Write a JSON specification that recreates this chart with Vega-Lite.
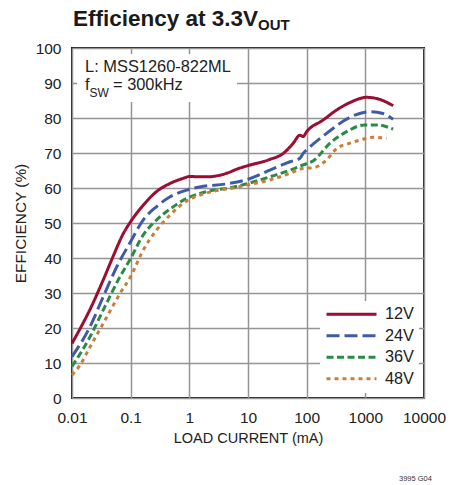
{
  "$schema": "https://vega.github.io/schema/vega-lite/v6.json",
  "width": 352,
  "height": 350,
  "autosize": {"type": "none"},
  "padding": {"left": 72, "top": 48, "right": 27, "bottom": 87},
  "background": "white",
  "config": {
    "font": "Liberation Sans",
    "view": {"stroke": "#1a1a1a", "strokeWidth": 2},
    "axis": {
      "grid": true,
      "gridColor": "#959595",
      "gridWidth": 1.5,
      "ticks": false,
      "domain": false,
      "labelFont": "Liberation Sans",
      "labelFontSize": 15.5,
      "labelColor": "#222",
      "titleFont": "Liberation Sans",
      "titleFontWeight": "normal",
      "titleColor": "#222",
      "labelOverlap": false
    },
    "legend": {
      "orient": "bottom-right",
      "offset": 5,
      "fillColor": "white",
      "padding": 5,
      "labelFont": "Liberation Sans",
      "labelFontSize": 16.3,
      "labelColor": "#222",
      "symbolType": "stroke",
      "symbolSize": 2500,
      "symbolStrokeWidth": 3,
      "clipHeight": 16.5,
      "rowPadding": 4.5,
      "labelOffset": 7,
      "title": null
    }
  },
  "layer": [
    {
      "data": {
        "values": [
          {"load": 0.01, "eff": 15.6, "vin": "12V"},
          {"load": 0.015, "eff": 21, "vin": "12V"},
          {"load": 0.02, "eff": 25.1, "vin": "12V"},
          {"load": 0.034, "eff": 33.7, "vin": "12V"},
          {"load": 0.05, "eff": 40.4, "vin": "12V"},
          {"load": 0.075, "eff": 47, "vin": "12V"},
          {"load": 0.1, "eff": 50.4, "vin": "12V"},
          {"load": 0.164, "eff": 55.1, "vin": "12V"},
          {"load": 0.277, "eff": 59, "vin": "12V"},
          {"load": 0.47, "eff": 61.3, "vin": "12V"},
          {"load": 0.8, "eff": 62.8, "vin": "12V"},
          {"load": 1, "eff": 63.3, "vin": "12V"},
          {"load": 1.5, "eff": 63.2, "vin": "12V"},
          {"load": 2, "eff": 63.2, "vin": "12V"},
          {"load": 3, "eff": 63.5, "vin": "12V"},
          {"load": 4.3, "eff": 64.2, "vin": "12V"},
          {"load": 7, "eff": 65.6, "vin": "12V"},
          {"load": 10, "eff": 66.4, "vin": "12V"},
          {"load": 23, "eff": 68.1, "vin": "12V"},
          {"load": 40, "eff": 69.9, "vin": "12V"},
          {"load": 59, "eff": 72.8, "vin": "12V"},
          {"load": 77, "eff": 75.1, "vin": "12V"},
          {"load": 87, "eff": 74.7, "vin": "12V"},
          {"load": 100, "eff": 76.1, "vin": "12V"},
          {"load": 190, "eff": 79.4, "vin": "12V"},
          {"load": 325, "eff": 82.3, "vin": "12V"},
          {"load": 545, "eff": 84.4, "vin": "12V"},
          {"load": 1050, "eff": 85.9, "vin": "12V"},
          {"load": 1770, "eff": 85.3, "vin": "12V"},
          {"load": 2980, "eff": 83.5, "vin": "12V"},

          {"load": 0.01, "eff": 11.8, "vin": "24V"},
          {"load": 0.0203, "eff": 20.4, "vin": "24V"},
          {"load": 0.034, "eff": 28.9, "vin": "24V"},
          {"load": 0.058, "eff": 37.5, "vin": "24V"},
          {"load": 0.1, "eff": 44.7, "vin": "24V"},
          {"load": 0.164, "eff": 50.9, "vin": "24V"},
          {"load": 0.277, "eff": 54.7, "vin": "24V"},
          {"load": 0.47, "eff": 57.5, "vin": "24V"},
          {"load": 0.9, "eff": 59.4, "vin": "24V"},
          {"load": 1.5, "eff": 60.3, "vin": "24V"},
          {"load": 4.4, "eff": 61.2, "vin": "24V"},
          {"load": 10, "eff": 62.5, "vin": "24V"},
          {"load": 23.6, "eff": 65.1, "vin": "24V"},
          {"load": 52, "eff": 67.5, "vin": "24V"},
          {"load": 77, "eff": 68.5, "vin": "24V"},
          {"load": 87, "eff": 69.9, "vin": "24V"},
          {"load": 100, "eff": 70.9, "vin": "24V"},
          {"load": 218, "eff": 75.6, "vin": "24V"},
          {"load": 545, "eff": 80.2, "vin": "24V"},
          {"load": 1200, "eff": 81.8, "vin": "24V"},
          {"load": 2000, "eff": 81.3, "vin": "24V"},
          {"load": 2980, "eff": 79.6, "vin": "24V"},

          {"load": 0.01, "eff": 9, "vin": "36V"},
          {"load": 0.0203, "eff": 17.5, "vin": "36V"},
          {"load": 0.034, "eff": 25.1, "vin": "36V"},
          {"load": 0.066, "eff": 34.7, "vin": "36V"},
          {"load": 0.1, "eff": 39.9, "vin": "36V"},
          {"load": 0.164, "eff": 46.6, "vin": "36V"},
          {"load": 0.277, "eff": 50.9, "vin": "36V"},
          {"load": 0.47, "eff": 54, "vin": "36V"},
          {"load": 0.9, "eff": 57, "vin": "36V"},
          {"load": 2, "eff": 59, "vin": "36V"},
          {"load": 5.5, "eff": 60.2, "vin": "36V"},
          {"load": 10, "eff": 61.3, "vin": "36V"},
          {"load": 23.6, "eff": 63.2, "vin": "36V"},
          {"load": 52, "eff": 65.1, "vin": "36V"},
          {"load": 87, "eff": 66.6, "vin": "36V"},
          {"load": 130, "eff": 67.8, "vin": "36V"},
          {"load": 250, "eff": 72.8, "vin": "36V"},
          {"load": 480, "eff": 76.1, "vin": "36V"},
          {"load": 960, "eff": 78, "vin": "36V"},
          {"load": 1600, "eff": 78, "vin": "36V"},
          {"load": 2980, "eff": 76.8, "vin": "36V"},

          {"load": 0.01, "eff": 6.6, "vin": "48V"},
          {"load": 0.0137, "eff": 9.4, "vin": "48V"},
          {"load": 0.02, "eff": 14.4, "vin": "48V"},
          {"load": 0.034, "eff": 21.3, "vin": "48V"},
          {"load": 0.066, "eff": 29.9, "vin": "48V"},
          {"load": 0.1, "eff": 34.7, "vin": "48V"},
          {"load": 0.164, "eff": 42.3, "vin": "48V"},
          {"load": 0.277, "eff": 48, "vin": "48V"},
          {"load": 0.47, "eff": 52.3, "vin": "48V"},
          {"load": 0.9, "eff": 56.3, "vin": "48V"},
          {"load": 2, "eff": 58.6, "vin": "48V"},
          {"load": 5.5, "eff": 60, "vin": "48V"},
          {"load": 10, "eff": 60.9, "vin": "48V"},
          {"load": 23.6, "eff": 62.3, "vin": "48V"},
          {"load": 52, "eff": 64.2, "vin": "48V"},
          {"load": 87, "eff": 65.6, "vin": "48V"},
          {"load": 130, "eff": 65.8, "vin": "48V"},
          {"load": 218, "eff": 68, "vin": "48V"},
          {"load": 325, "eff": 71.3, "vin": "48V"},
          {"load": 545, "eff": 72.8, "vin": "48V"},
          {"load": 810, "eff": 73.7, "vin": "48V"},
          {"load": 1350, "eff": 74.5, "vin": "48V"},
          {"load": 2300, "eff": 74.2, "vin": "48V"}
        ]
      },
      "mark": {"type": "line", "strokeWidth": 3, "interpolate": "monotone", "strokeCap": "butt"},
      "encoding": {
        "x": {
          "field": "load",
          "type": "quantitative",
          "scale": {"type": "log", "domain": [0.01, 10000], "nice": false},
          "axis": {"values": [0.01, 0.1, 1, 10, 100, 1000, 10000], "format": "~g", "title": "LOAD CURRENT (mA)", "titleFontSize": 14.5, "labelPadding": 12, "titlePadding": 6, "labelFlush": false}
        },
        "y": {
          "field": "eff",
          "type": "quantitative",
          "scale": {"domain": [0, 100], "nice": false},
          "axis": {"values": [0, 10, 20, 30, 40, 50, 60, 70, 80, 90, 100], "title": "EFFICIENCY (%)", "titleFontSize": 15.4, "labelPadding": 11, "titlePadding": 7}
        },
        "color": {
          "field": "vin",
          "type": "nominal",
          "scale": {"domain": ["12V", "24V", "36V", "48V"], "range": ["#9c0d32", "#3d5ba9", "#2b8a48", "#c97f3a"]}
        },
        "strokeDash": {
          "field": "vin",
          "type": "nominal",
          "scale": {"domain": ["12V", "24V", "36V", "48V"], "range": [[1, 0], [13, 5], [7, 3.5], [4, 4]]}
        }
      }
    },
    {
      "data": {"values": [{}]},
      "mark": {"type": "rect", "fill": "white"},
      "encoding": {
        "x": {"datum": 0.0122, "type": "quantitative", "scale": {"type": "log", "domain": [0.01, 10000], "nice": false}, "axis": {"values": [0.01, 0.1, 1, 10, 100, 1000, 10000], "format": "~g", "title": "LOAD CURRENT (mA)", "titleFontSize": 14.5, "labelPadding": 12, "titlePadding": 6, "labelFlush": false}},
        "x2": {"datum": 6.5},
        "y": {"datum": 98.3, "type": "quantitative", "scale": {"domain": [0, 100], "nice": false}, "axis": {"values": [0, 10, 20, 30, 40, 50, 60, 70, 80, 90, 100], "title": "EFFICIENCY (%)", "titleFontSize": 15.4, "labelPadding": 11, "titlePadding": 7}},
        "y2": {"datum": 84.6}
      }
    },
    {
      "data": {"values": [{}]},
      "mark": {"type": "text", "align": "left", "baseline": "alphabetic", "fontSize": 16.4, "color": "#222"},
      "encoding": {
        "x": {"datum": 0.0167, "type": "quantitative", "scale": {"type": "log", "domain": [0.01, 10000], "nice": false}, "axis": {"values": [0.01, 0.1, 1, 10, 100, 1000, 10000], "format": "~g", "title": "LOAD CURRENT (mA)", "titleFontSize": 14.5, "labelPadding": 12, "titlePadding": 6, "labelFlush": false}},
        "y": {"datum": 93.1, "type": "quantitative", "scale": {"domain": [0, 100], "nice": false}, "axis": {"values": [0, 10, 20, 30, 40, 50, 60, 70, 80, 90, 100], "title": "EFFICIENCY (%)", "titleFontSize": 15.4, "labelPadding": 11, "titlePadding": 7}},
        "text": {"value": "L: MSS1260-822ML"}
      }
    },
    {
      "data": {"values": [{}]},
      "mark": {"type": "text", "align": "left", "baseline": "alphabetic", "fontSize": 16.4, "color": "#222"},
      "encoding": {
        "x": {"datum": 0.0167, "type": "quantitative", "scale": {"type": "log", "domain": [0.01, 10000], "nice": false}, "axis": {"values": [0.01, 0.1, 1, 10, 100, 1000, 10000], "format": "~g", "title": "LOAD CURRENT (mA)", "titleFontSize": 14.5, "labelPadding": 12, "titlePadding": 6, "labelFlush": false}},
        "y": {"datum": 88, "type": "quantitative", "scale": {"domain": [0, 100], "nice": false}, "axis": {"values": [0, 10, 20, 30, 40, 50, 60, 70, 80, 90, 100], "title": "EFFICIENCY (%)", "titleFontSize": 15.4, "labelPadding": 11, "titlePadding": 7}},
        "text": {"value": "f"}
      }
    },
    {
      "data": {"values": [{}]},
      "mark": {"type": "text", "align": "left", "baseline": "alphabetic", "fontSize": 12, "color": "#222"},
      "encoding": {
        "x": {"datum": 0.0199, "type": "quantitative", "scale": {"type": "log", "domain": [0.01, 10000], "nice": false}, "axis": {"values": [0.01, 0.1, 1, 10, 100, 1000, 10000], "format": "~g", "title": "LOAD CURRENT (mA)", "titleFontSize": 14.5, "labelPadding": 12, "titlePadding": 6, "labelFlush": false}},
        "y": {"datum": 86, "type": "quantitative", "scale": {"domain": [0, 100], "nice": false}, "axis": {"values": [0, 10, 20, 30, 40, 50, 60, 70, 80, 90, 100], "title": "EFFICIENCY (%)", "titleFontSize": 15.4, "labelPadding": 11, "titlePadding": 7}},
        "text": {"value": "SW"}
      }
    },
    {
      "data": {"values": [{}]},
      "mark": {"type": "text", "align": "left", "baseline": "alphabetic", "fontSize": 16.4, "color": "#222"},
      "encoding": {
        "x": {"datum": 0.05, "type": "quantitative", "scale": {"type": "log", "domain": [0.01, 10000], "nice": false}, "axis": {"values": [0.01, 0.1, 1, 10, 100, 1000, 10000], "format": "~g", "title": "LOAD CURRENT (mA)", "titleFontSize": 14.5, "labelPadding": 12, "titlePadding": 6, "labelFlush": false}},
        "y": {"datum": 88, "type": "quantitative", "scale": {"domain": [0, 100], "nice": false}, "axis": {"values": [0, 10, 20, 30, 40, 50, 60, 70, 80, 90, 100], "title": "EFFICIENCY (%)", "titleFontSize": 15.4, "labelPadding": 11, "titlePadding": 7}},
        "text": {"value": "= 300kHz"}
      }
    },
    {
      "data": {"values": [{}]},
      "mark": {"type": "text", "align": "left", "baseline": "alphabetic", "fontSize": 22.5, "fontWeight": "bold", "color": "#1a1a1a"},
      "encoding": {
        "x": {"datum": 0.0104, "type": "quantitative", "scale": {"type": "log", "domain": [0.01, 10000], "nice": false}, "axis": {"values": [0.01, 0.1, 1, 10, 100, 1000, 10000], "format": "~g", "title": "LOAD CURRENT (mA)", "titleFontSize": 14.5, "labelPadding": 12, "titlePadding": 6, "labelFlush": false}},
        "y": {"datum": 106.3, "type": "quantitative", "scale": {"domain": [0, 100], "nice": false}, "axis": {"values": [0, 10, 20, 30, 40, 50, 60, 70, 80, 90, 100], "title": "EFFICIENCY (%)", "titleFontSize": 15.4, "labelPadding": 11, "titlePadding": 7}},
        "text": {"value": "Efficiency at 3.3V"}
      }
    },
    {
      "data": {"values": [{}]},
      "mark": {"type": "text", "align": "left", "baseline": "alphabetic", "fontSize": 15, "fontWeight": "bold", "color": "#1a1a1a"},
      "encoding": {
        "x": {"datum": 14.8, "type": "quantitative", "scale": {"type": "log", "domain": [0.01, 10000], "nice": false}, "axis": {"values": [0.01, 0.1, 1, 10, 100, 1000, 10000], "format": "~g", "title": "LOAD CURRENT (mA)", "titleFontSize": 14.5, "labelPadding": 12, "titlePadding": 6, "labelFlush": false}},
        "y": {"datum": 105.1, "type": "quantitative", "scale": {"domain": [0, 100], "nice": false}, "axis": {"values": [0, 10, 20, 30, 40, 50, 60, 70, 80, 90, 100], "title": "EFFICIENCY (%)", "titleFontSize": 15.4, "labelPadding": 11, "titlePadding": 7}},
        "text": {"value": "OUT"}
      }
    },
    {
      "data": {"values": [{}]},
      "mark": {"type": "text", "align": "left", "baseline": "alphabetic", "fontSize": 7.5, "color": "#333"},
      "encoding": {
        "x": {"datum": 3750, "type": "quantitative", "scale": {"type": "log", "domain": [0.01, 10000], "nice": false}, "axis": {"values": [0.01, 0.1, 1, 10, 100, 1000, 10000], "format": "~g", "title": "LOAD CURRENT (mA)", "titleFontSize": 14.5, "labelPadding": 12, "titlePadding": 6, "labelFlush": false}},
        "y": {"datum": -23.7, "type": "quantitative", "scale": {"domain": [0, 100], "nice": false}, "axis": {"values": [0, 10, 20, 30, 40, 50, 60, 70, 80, 90, 100], "title": "EFFICIENCY (%)", "titleFontSize": 15.4, "labelPadding": 11, "titlePadding": 7}},
        "text": {"value": "3995 G04"}
      }
    }
  ]
}
